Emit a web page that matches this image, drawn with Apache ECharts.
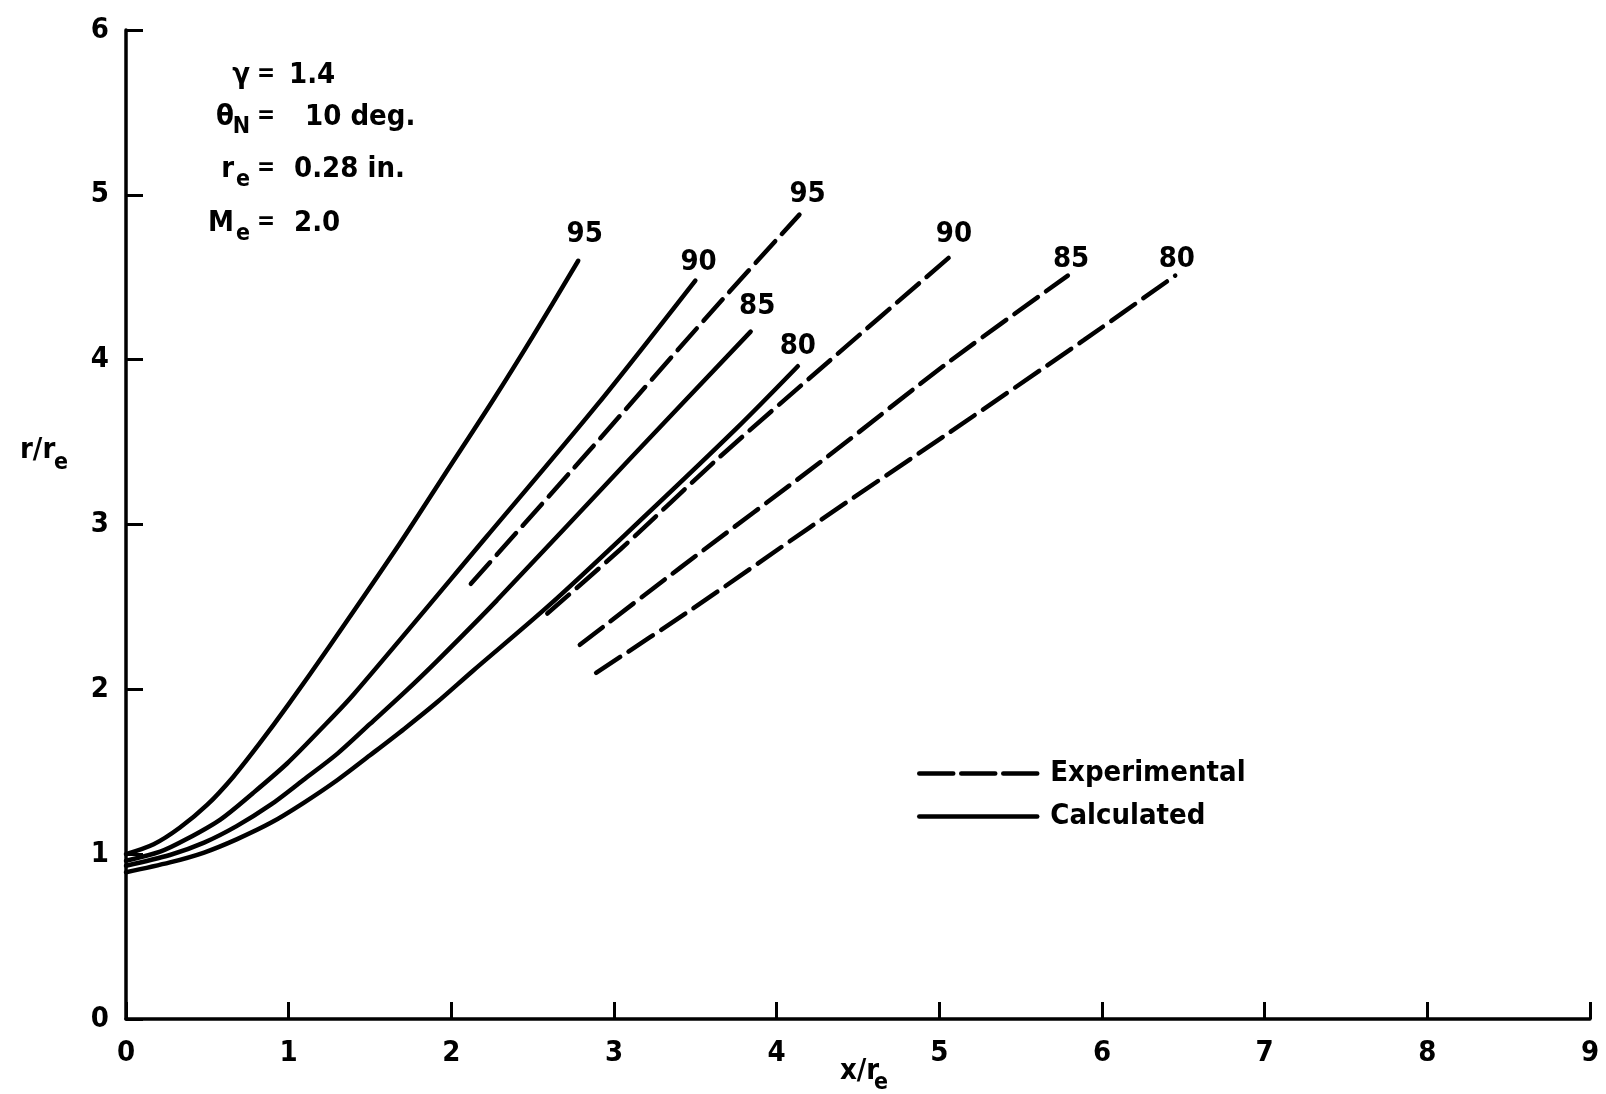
<!DOCTYPE html>
<html lang="en">
<head>
    <meta charset="UTF-8">
    <title>r/re vs x/re</title>
    <script src="https://cdn.jsdelivr.net/npm/echarts@6/dist/echarts.min.js"></script>
    <style>
        html, body { margin: 0; padding: 0; background: #fff; }
        #main { width: 1606px; height: 1094px; }
    </style>
</head>
<body>
<div id="main"></div>
<script>
    // calculated curves (solid), [x/re, r/re]
    var calc95 = [[0, 1.0], [0.17, 1.06], [0.33, 1.16], [0.5, 1.3], [0.66, 1.47], [0.82, 1.67], [1.0, 1.91], [1.25, 2.26], [1.68, 2.88], [1.97, 3.32], [2.26, 3.76], [2.5, 4.14], [2.78, 4.6]];
    var calc90 = [[0, 0.96], [0.21, 1.015], [0.37, 1.09], [0.58, 1.21], [0.78, 1.37], [0.99, 1.55], [1.19, 1.75], [1.4, 1.97], [2.22, 2.93], [2.9, 3.73], [3.5, 4.48]];
    var calc85 = [[0, 0.93], [0.27, 0.995], [0.48, 1.07], [0.68, 1.17], [0.89, 1.3], [1.09, 1.45], [1.3, 1.61], [1.5, 1.79], [1.71, 1.98], [1.91, 2.17], [2.28, 2.54], [3.1, 3.4], [3.84, 4.17]];
    var calc80 = [[0, 0.89], [0.27, 0.95], [0.48, 1.01], [0.68, 1.09], [0.89, 1.19], [1.09, 1.31], [1.3, 1.45], [1.5, 1.6], [1.71, 1.76], [1.91, 1.92], [2.13, 2.11], [2.59, 2.5], [3.06, 2.93], [3.75, 3.58], [4.13, 3.96]];

    // experimental curves (dashed)
    var exp95 = [[2.12, 2.64], [2.85, 3.45], [3.59, 4.28], [4.14, 4.88]];
    var exp90 = [[2.59, 2.46], [3.04, 2.85], [3.65, 3.41], [4.31, 3.98], [5.06, 4.62]];
    var exp85 = [[2.79, 2.27], [3.41, 2.74], [4.31, 3.41], [5.05, 3.98], [5.79, 4.51]];
    var exp80 = [[2.89, 2.1], [3.47, 2.48], [4.2, 2.98], [5.05, 3.55], [5.89, 4.12], [6.45, 4.51]];

    // curve labels
    var labelText = ['95', '90', '85', '80', '95', '90', '85', '80'];
    var labelX = [2.82, 3.52, 3.88, 4.13, 4.19, 5.09, 5.81, 6.46];
    var labelY = [4.76, 4.59, 4.32, 4.08, 5.0, 4.76, 4.61, 4.61];

    var xTicks = [0, 1, 2, 3, 4, 5, 6, 7, 8, 9];
    var yTicks = [0, 1, 2, 3, 4, 5, 6];

    var FONT = "'DejaVu Sans Condensed', 'Liberation Sans Narrow', sans-serif";
    var FS = 29;

    var labelData = [];
    for (var i = 0; i < labelText.length; i++) {
        labelData.push({value: [labelX[i], labelY[i]], name: labelText[i]});
    }

    function calcSeries(data) {
        return {
            name: 'Calculated', type: 'line', data: data, smooth: 0.3,
            symbol: 'none', silent: true,
            itemStyle: {color: '#000'},
            lineStyle: {color: '#000', width: 4.5, cap: 'round'}
        };
    }
    function expSeries(data) {
        return {
            name: 'Experimental', type: 'line', data: data, smooth: 0.3,
            symbol: 'none', silent: true,
            itemStyle: {color: '#000'},
            lineStyle: {color: '#000', width: 4.5, type: [29, 10], cap: 'round'}
        };
    }

    function txt(text, x, y, size, align) {
        return {
            type: 'text', x: x, y: y, silent: true,
            style: {
                text: text, fill: '#000', fontSize: size, fontWeight: 'bold',
                fontFamily: FONT, align: align || 'left', verticalAlign: 'middle'
            }
        };
    }

    var option = {
        animation: false,
        backgroundColor: '#fff',
        grid: {left: 126, right: 16, top: 30, bottom: 75, containLabel: false},
        legend: {
            data: [
                {name: 'Experimental', lineStyle: {type: [34, 8], width: 4.5, color: '#000'}},
                {name: 'Calculated'}
            ],
            orient: 'vertical',
            left: 912, top: 754,
            itemWidth: 118, itemHeight: 16, itemGap: 14,
            itemStyle: {opacity: 0},
            lineStyle: {width: 4.5, color: '#000'},
            textStyle: {fontSize: FS, fontWeight: 'bold', fontFamily: FONT, color: '#000', padding: [0, 0, 0, 8]},
            selectedMode: false
        },
        xAxis: {
            type: 'value', min: 0, max: 9, interval: 1,
            axisLine: {onZero: false, lineStyle: {color: '#000', width: 3.5}},
            axisTick: {inside: true, length: 17, lineStyle: {color: '#000', width: 3}},
            axisLabel: {
                margin: 20, color: '#000', fontSize: FS, fontWeight: 'bold', fontFamily: FONT,
                formatter: function (v) { return xTicks.indexOf(v) >= 0 ? String(v) : ''; }
            },
            splitLine: {show: false}
        },
        yAxis: {
            type: 'value', min: 0, max: 6, interval: 1,
            axisLine: {onZero: false, lineStyle: {color: '#000', width: 3.5}},
            axisTick: {inside: true, length: 17, lineStyle: {color: '#000', width: 3}},
            axisLabel: {
                margin: 17, color: '#000', fontSize: FS, fontWeight: 'bold', fontFamily: FONT,
                formatter: function (v) { return yTicks.indexOf(v) >= 0 ? String(v) : ''; }
            },
            splitLine: {show: false}
        },
        series: [
            calcSeries(calc95), calcSeries(calc90), calcSeries(calc85), calcSeries(calc80),
            expSeries(exp95), expSeries(exp90), expSeries(exp85), expSeries(exp80),
            {
                name: 'labels', type: 'scatter', data: labelData, symbolSize: 1, silent: true,
                itemStyle: {color: '#fff', opacity: 0},
                label: {
                    show: true, position: 'inside', formatter: '{b}', color: '#000', opacity: 1,
                    fontSize: FS, fontWeight: 'bold', fontFamily: FONT
                }
            }
        ],
        graphic: [
            // axis names
            txt('r/r', 20, 450, FS), txt('e', 54, 463, 23),
            txt('x/r', 840, 1071, FS), txt('e', 874, 1083, 23),
            // parameters
            txt('\u03b3', 250, 75, FS, 'right'), txt('=', 266, 75, 24, 'center'), txt('1.4', 289, 75, FS),
            txt('\u03b8', 234, 117, FS, 'right'), txt('N', 250, 127, 23, 'right'), txt('=', 266, 117, 24, 'center'), txt('10 deg.', 305, 117, FS),
            txt('r', 234, 169, FS, 'right'), txt('e', 250, 180, 23, 'right'), txt('=', 266, 169, 24, 'center'), txt('0.28 in.', 294, 169, FS),
            txt('M', 234, 223, FS, 'right'), txt('e', 250, 234, 23, 'right'), txt('=', 266, 223, 24, 'center'), txt('2.0', 294, 223, FS)
        ]
    };

    echarts.init(document.getElementById('main')).setOption(option);
</script>
</body>
</html>
